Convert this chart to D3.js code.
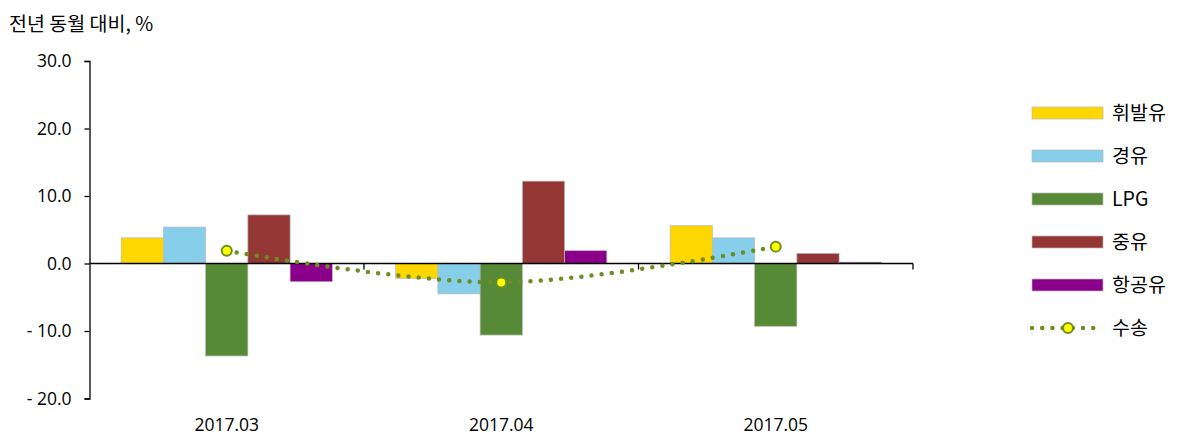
<!DOCTYPE html>
<html><head><meta charset="utf-8">
<script src="https://cdn.jsdelivr.net/npm/d3@7"></script>
<style>
html,body{margin:0;padding:0;background:#fff;}
svg{display:block;font-family:"Noto Sans CJK KR","Open Sans",sans-serif;}
</style></head>
<body><svg id="c" width="1200" height="440"></svg>
<script>
const categories = ["2017.03", "2017.04", "2017.05"];
const seriesNames = ["휘발유", "경유", "LPG", "중유", "항공유"];
const gasoline = [3.8, -2.2, 5.6];
const diesel = [5.4, -4.5, 3.8];
const lpg = [-13.7, -10.6, -9.3];
const heavyOil = [7.2, 12.2, 1.5];
const jetFuel = [-2.7, 1.9, 0.2];
const lineName = "수송";
const transport = [1.9, -2.8, 2.5];
const yTicks = [-20, -10, 0, 10, 20, 30];
const yTitle = "전년 동월 대비, %";
const colors = ["#FFD700", "#87CEEB", "#568A37", "#943634", "#8B008B"];
const lineColor = "#6B8E23";

const barSeries = [gasoline, diesel, lpg, heavyOil, jetFuel];

const svg = d3.select("#c");
const pLeft = 89.5, pRight = 913, pTop = 61, pBottom = 398.5;

const y = d3.scaleLinear().domain([-20, 30]).range([pBottom, pTop]);
const x = d3.scaleBand().domain(categories).range([pLeft, pRight]).paddingInner(0).paddingOuter(0);
const xi = d3.scaleBand().domain(seriesNames).range([0, x.bandwidth()]).paddingInner(0).paddingOuter(0.75);

// title
svg.append("text").attr("x", 9).attr("y", 31).attr("font-size", 19.5).attr("fill", "#000").text(yTitle);

// bars
seriesNames.forEach((name, si) => {
  svg.append("g").selectAll("rect").data(barSeries[si]).join("rect")
    .attr("x", (d, i) => x(categories[i]) + xi(name))
    .attr("width", xi.bandwidth())
    .attr("y", d => y(Math.max(0, d)))
    .attr("height", d => Math.abs(y(d) - y(0)))
    .attr("fill", colors[si])
    .attr("stroke", "#b8b8b8").attr("stroke-width", 0.7);
});

// y axis
const yAxis = d3.axisLeft(y).tickValues(yTicks).tickSize(5).tickPadding(13)
  .tickFormat(d => d < 0 ? "- " + Math.abs(d).toFixed(1) : d.toFixed(1));
const gy = svg.append("g").attr("transform", `translate(${pLeft},0)`).call(yAxis);
gy.select(".domain").attr("stroke", "#000").attr("stroke-width", 1.3);
gy.selectAll(".tick line").attr("stroke", "#000").attr("stroke-width", 1.3);
gy.selectAll(".tick text").attr("font-size", 17.5).attr("fill", "#000")
  .attr("font-family", "'Open Sans',sans-serif");

// x axis at zero
const gx = svg.append("g").attr("transform", `translate(0,${y(0)})`);
gx.append("line").attr("x1", pLeft).attr("x2", pRight).attr("stroke", "#000").attr("stroke-width", 1.3);
gx.selectAll("line.tk").data(categories).join("line").attr("class", "tk")
  .attr("x1", d => x(d) + x.bandwidth()).attr("x2", d => x(d) + x.bandwidth())
  .attr("y1", 0).attr("y2", 6).attr("stroke", "#000").attr("stroke-width", 1.3);

// x labels
svg.append("g").selectAll("text").data(categories).join("text")
  .attr("x", d => x(d) + x.bandwidth() / 2).attr("y", 431)
  .attr("text-anchor", "middle").attr("font-size", 17.5).attr("fill", "#000")
  .attr("font-family", "'Open Sans',sans-serif")
  .text(d => d);

// line
const line = d3.line()
  .x((d, i) => x(categories[i]) + x.bandwidth() / 2)
  .y(d => y(d))
  .curve(d3.curveCardinal.tension(0));
svg.append("path").datum(transport).attr("d", line)
  .attr("fill", "none").attr("stroke", lineColor).attr("stroke-width", 4.5)
  .attr("stroke-linecap", "round").attr("stroke-dasharray", "0 10.2");
svg.append("g").selectAll("circle").data(transport).join("circle")
  .attr("cx", (d, i) => x(categories[i]) + x.bandwidth() / 2)
  .attr("cy", d => y(d)).attr("r", 5)
  .attr("fill", "#FFFF00").attr("stroke", lineColor).attr("stroke-width", 2);

// legend
const lg = svg.append("g");
const rowY = i => 113 + i * 43;
seriesNames.forEach((name, i) => {
  lg.append("rect").attr("x", 1032).attr("y", rowY(i) - 6).attr("width", 71).attr("height", 12)
    .attr("fill", colors[i]).attr("stroke", "#b8b8b8").attr("stroke-width", 0.7);
  lg.append("text").attr("x", 1112).attr("y", rowY(i)).attr("dy", "0.36em")
    .attr("font-size", 19.5).attr("fill", "#000").text(name);
});
const ly = rowY(5);
lg.append("line").attr("x1", 1032).attr("x2", 1100).attr("y1", ly).attr("y2", ly)
  .attr("stroke", lineColor).attr("stroke-width", 4.5).attr("stroke-linecap", "round")
  .attr("stroke-dasharray", "0 10.2");
lg.append("circle").attr("cx", 1068).attr("cy", ly).attr("r", 5)
  .attr("fill", "#FFFF00").attr("stroke", lineColor).attr("stroke-width", 2);
lg.append("text").attr("x", 1112).attr("y", ly).attr("dy", "0.36em")
  .attr("font-size", 19.5).attr("fill", "#000").text(lineName);
</script></body></html>
